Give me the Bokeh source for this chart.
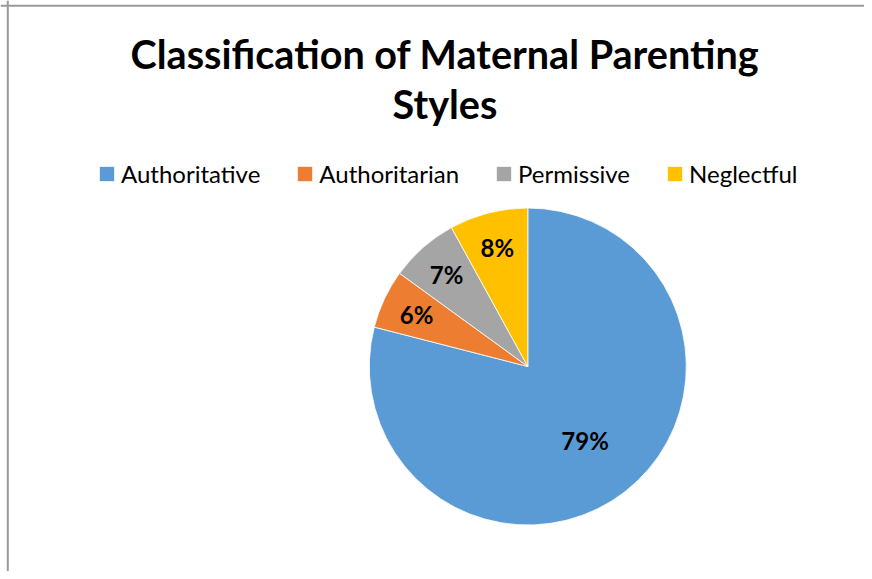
import math
from bokeh.plotting import figure
from bokeh.models import (Range1d, ColumnDataSource, Legend, LegendItem, Label, Span)
from bokeh.core.properties import value
from bokeh.embed import file_html
from bokeh.resources import INLINE

# ---- data ----
categories = ["Authoritative", "Authoritarian", "Permissive", "Neglectful"]
shares = [79, 6, 7, 8]
colors = ["#5B9BD5", "#ED7D31", "#A5A5A5", "#FFC000"]
title_lines = ["Classification of Maternal Parenting", "Styles"]

W, H = 864, 571
p = figure(width=W, height=H, output_backend="svg", toolbar_location=None,
           x_range=Range1d(0, W), y_range=Range1d(0, H), min_border=0,
           outline_line_color=None, background_fill_color="white",
           border_fill_color="white")
p.axis.visible = False
p.grid.visible = False

# frame lines (left & top)
p.add_layout(Span(location=7.3, dimension="height", line_color="#9a9a9a", line_width=2))
p.add_layout(Span(location=565.7, dimension="width", line_color="#9a9a9a", line_width=2))

cx, cy, R = 527.3, 205.0, 158.5
total = float(sum(shares))
starts, ends, lx, ly, labels = [], [], [], [], []
cum = 0.0
for s in shares:
    a0 = math.pi / 2 - 2 * math.pi * cum / total
    a1 = math.pi / 2 - 2 * math.pi * (cum + s) / total
    starts.append(a0)
    ends.append(a1)
    mid = (a0 + a1) / 2
    f = 0.59 if s / total > 0.5 else 0.775
    lx.append(cx + f * R * math.cos(mid))
    ly.append(cy + f * R * math.sin(mid))
    labels.append(f"{round(100 * s / total)}%")
    cum += s

src = ColumnDataSource(dict(start=starts, end=ends, color=colors, cat=categories,
                            lx=lx, ly=ly, lab=labels))
r = p.wedge(x=cx, y=cy, radius=R, start_angle="start", end_angle="end",
            direction="clock", fill_color="color", line_color="white",
            line_width=0.8, source=src)

p.text(x="lx", y="ly", text="lab", source=src, text_font=value("Lato"),
       text_font_style="bold", text_font_size="24px", text_color="black",
       text_align="center", text_baseline="middle")

# title
for i, t in enumerate(title_lines):
    p.add_layout(Label(x=444.5, y=518 - 50 * i, text=t, text_font="Lato",
                       text_font_style="bold", text_font_size="39.6px",
                       text_color="black", text_align="center",
                       text_baseline="alphabetic"))

items = [LegendItem(label=c, renderers=[r], index=i) for i, c in enumerate(categories)]
legend = Legend(items=items, orientation="horizontal", location=(97, 383.5),
                glyph_width=19, glyph_height=19, label_standoff=5, spacing=35,
                label_text_font="Lato", label_text_font_size="24px",
                label_text_color="black", label_height=15,
                border_line_color=None, background_fill_alpha=0,
                padding=0, margin=0)
p.add_layout(legend, "center")

open("out.html", "w").write(file_html(p, INLINE))
